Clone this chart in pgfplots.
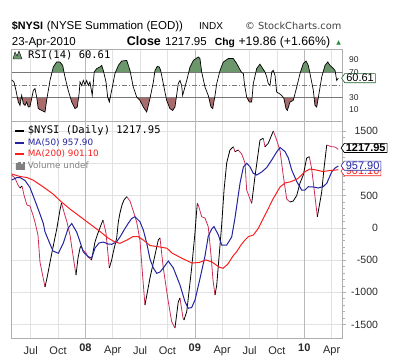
\documentclass[border=0pt]{standalone}
\usepackage{pgfplots}
\pgfplotsset{compat=1.18}
\usepackage{pgfplotstable}
\usetikzlibrary{shapes.symbols}
\usepackage{fontspec}
\setmainfont{Liberation Sans}
\newfontfamily\mono{DejaVu Sans Mono}
\newfontfamily\dejavu{DejaVu Sans}
\definecolor{nysidn}{RGB}{205,45,85}
\definecolor{ma50}{RGB}{35,35,160}
\definecolor{ma200}{RGB}{250,30,30}
\definecolor{rsigreen}{RGB}{108,150,108}
\definecolor{rsired}{RGB}{168,108,108}
\definecolor{gridl}{RGB}{226,226,226}
\definecolor{gridy}{RGB}{185,185,185}
\definecolor{framec}{RGB}{175,175,175}
\definecolor{refl}{RGB}{120,120,120}
\definecolor{upgreen}{RGB}{40,140,60}
\definecolor{txt}{RGB}{40,40,40}

% $NYSI falling segments (crimson)
\pgfplotstableread{
x y
3.92 820
4.28 773
4.61 665
4.83 618
nan nan
5.05 649
5.27 509
5.59 354
5.92 339
6.25 199
6.47 90
6.80 -112
7.02 -531
7.57 -919
nan nan
9.38 385
9.65 245
9.98 90
10.31 -112
10.75 -531
10.97 -733
nan nan
11.52 -283
11.73 -345
12.06 -391
12.28 -453
12.67 -500
nan nan
13.93 121
14.26 -81
14.62 -624
nan nan
16.53 483
16.89 416
17.25 261
17.62 90
17.98 -189
18.31 -811
18.53 -1199
nan nan
20.18 -158
20.54 -624
21.09 -1148
21.46 -1458
21.82 -1556
nan nan
22.37 -1090
22.70 -1401
22.81 -1432
nan nan
24.27 380
24.38 354
24.75 172
25.11 152
25.47 17
25.77 -422
25.99 -811
26.21 -1044
nan nan
28.22 1259
28.40 1182
nan nan
28.76 1208
29.14 1146
29.50 1006
29.68 587
30.23 380
nan nan
31.50 1390
31.69 1259
nan nan
32.60 1503
32.97 1364
33.34 1197
33.70 804
34.07 447
34.43 401
nan nan
36.55 1104
36.81 913
37.17 486
37.43 172
nan nan
38.46 1286
39.00 1259
39.37 1255
39.73 1218
}\nysidown

% $NYSI rising segments (black)
\pgfplotstableread{
x y
4.83 618
5.05 649
nan nan
7.57 -919
7.79 -780
8.34 -376
8.88 -3
9.21 276
9.38 385
nan nan
10.97 -733
11.19 -469
11.41 -314
11.52 -283
nan nan
12.67 -500
13.05 -221
13.38 -81
13.71 43
13.93 121
nan nan
14.62 -624
14.88 -500
15.06 -376
15.43 -158
15.61 90
15.79 230
16.01 354
16.23 432
16.53 483
nan nan
18.53 -1199
19.08 -780
19.63 -422
19.99 -189
20.18 -158
nan nan
21.82 -1556
22.18 -1152
22.37 -1090
nan nan
22.81 -1432
23.11 -1303
23.65 -624
24.02 -65
24.16 199
24.27 380
nan nan
26.21 -1044
26.40 -888
26.76 -267
26.94 43
27.20 587
27.49 1006
27.85 1208
28.22 1259
nan nan
28.40 1182
28.76 1208
nan nan
30.23 380
30.59 794
31.14 1364
31.50 1390
nan nan
31.69 1259
32.05 1312
32.60 1503
nan nan
34.43 401
34.79 416
35.17 502
35.53 696
35.89 820
36.26 1084
36.55 1104
nan nan
37.43 172
37.91 556
38.16 924
38.46 1286
}\nysiup

% MA(50)
\pgfplotstableread{
x y
3.92 742
4.46 778
4.83 781
5.38 735
5.92 626
6.47 424
7.02 214
7.38 70
7.57 -61
8.12 -252
8.45 -360
9.03 -396
9.57 -241
10.12 -3
10.50 67
11.04 -65
11.41 -216
11.77 -376
12.32 -449
12.69 -469
13.05 -314
13.49 -236
13.96 -221
14.51 -252
14.88 -256
15.43 -216
15.79 -143
16.34 -11
16.70 70
17.07 144
17.44 172
17.98 95
18.35 -34
18.72 -236
19.08 -485
19.45 -624
19.82 -707
20.18 -686
20.54 -624
21.09 -516
21.64 -624
22.37 -888
22.92 -1148
23.28 -1250
23.65 -1238
24.02 -1121
24.56 -790
25.11 -440
25.47 -130
25.85 -19
26.10 20
26.58 -112
26.94 -267
27.49 -267
28.04 -143
28.40 152
28.95 691
29.32 944
29.68 1002
30.04 949
30.41 846
30.78 820
31.33 867
31.88 936
32.43 1053
32.97 1177
33.34 1247
33.88 1185
34.25 1084
34.62 898
35.17 719
35.71 587
36.07 587
36.44 638
36.99 634
37.53 618
38.08 641
38.46 691
39.00 867
39.37 929
39.73 958
}\maA

% MA(200)
\pgfplotstableread{
x y
3.92 836
4.83 797
5.59 781
6.25 742
7.35 638
8.45 525
9.32 408
10.31 292
11.41 175
12.50 59
13.60 -57
14.48 -158
15.24 -221
15.79 -241
16.56 -189
17.22 -135
17.77 -135
18.42 -197
19.08 -275
20.18 -298
20.95 -318
21.49 -391
22.59 -474
23.69 -547
24.46 -539
25.22 -500
25.88 -531
26.65 -609
27.09 -629
27.63 -562
28.18 -438
28.59 -371
29.06 -267
29.50 -189
29.86 -138
30.41 -112
30.96 -8
31.36 106
31.88 250
32.57 447
33.34 634
33.88 696
34.54 716
35.31 766
36.07 871
36.62 913
37.28 898
38.05 874
38.82 890
39.73 901
}\maB

% RSI(14)
\pgfplotstableread{
x y
3.92 58
4.17 54.5
4.39 41
4.64 22.5
4.83 17
5.01 33
5.19 20
5.38 17
5.56 22.5
5.74 14.5
5.92 15
6.11 28
6.29 41
6.47 44
6.66 30.5
6.83 12
7.21 9
7.57 6.5
7.75 25
8.12 57
8.48 78.5
8.85 86.5
9.21 86.5
9.51 81
9.76 62.5
10.12 41
10.50 22.5
10.86 12
11.11 14.5
11.33 38.5
11.41 54.5
11.59 49
11.77 57
11.95 50.5
12.14 57
12.32 49
12.50 54.5
12.75 33
12.97 70.5
13.24 76
13.60 78.5
13.79 81
13.96 73
14.26 54.5
14.44 30.5
14.62 22.5
14.88 41
15.24 68
15.61 81
15.98 88
16.53 89
16.89 73
17.25 46.5
17.62 30.5
17.98 25
18.35 14.5
18.72 6.5
19.08 28
19.45 54.5
19.63 73
19.88 79.5
20.10 78.5
20.25 73
20.54 52
20.91 25
21.27 12
21.57 9
21.82 14.5
22.00 33
22.18 52
22.37 57
22.55 49
22.66 33
22.81 41
23.11 57
23.47 78.5
23.83 89
24.38 94.5
24.56 92
24.75 70.5
25.11 46.5
25.47 33
25.77 14.5
25.96 12
26.21 33
26.40 52
26.76 73
27.12 86.5
27.67 92
28.22 92
28.59 84
28.88 76
29.14 69.5
29.32 68
29.43 52
29.68 30.5
29.97 22.5
30.23 22.5
30.41 52
30.78 76
31.14 83
31.44 76
31.69 70.5
31.88 62.5
32.05 52
32.24 49
32.43 70.5
32.60 73
32.79 65
32.97 38.5
33.26 36
33.52 33
33.77 28
33.99 12
34.14 9
34.43 22.5
34.79 25
35.17 46.5
35.53 68
35.89 84
36.19 88
36.44 81
36.70 62.5
36.99 41
37.17 17
37.36 14.5
37.61 36
37.91 62.5
38.27 81
38.57 86.5
38.82 81
39.19 76
39.37 73
39.55 57
39.73 60.61
}\rsi

\tikzset{
  valbox/.style={signal, signal to=west, signal pointer angle=110, fill=white,
    line width=0.6pt, inner xsep=1.5pt, inner ysep=0.6pt, text height=7.5pt, text depth=0.5pt,
    font=\fontsize{11}{11}\selectfont, anchor=west},
}

\begin{document}
\begin{tikzpicture}
\pgfplotsset{
  panel/.style={
    scale only axis, width=331pt,
    xmin=3.92, xmax=40.21,
    axis line style={draw=framec, line width=0.6pt},
    xtick={6,9,15,18,21,27,30,33,39},
    extra x ticks={12,24,36},
    xmajorgrids,
    major grid style={draw=gridl, line width=0.6pt},
    extra x tick style={grid=major, major grid style={draw=gridy, line width=0.6pt}, major tick length=0pt},
    xtick style={draw=none},
    ytick pos=right, yticklabel pos=right,
    tick align=outside,
    ytick style={draw=framec, line width=0.5pt},
    major tick length=3pt, minor tick length=2pt,
    tick label style={text=txt},
  },
}
% ---------------- main panel ----------------
\begin{axis}[panel, name=main, at={(0pt,0pt)}, anchor=south west,
  height=216.6pt, ymin=-1716, ymax=1648,
  unbounded coords=jump,
  xticklabels={Jul,Oct,Apr,Jul,Oct,Apr,Jul,Oct,Apr},
  extra x tick labels={\textbf{08},\textbf{09},\textbf{10}},
  xticklabel style={font=\fontsize{11}{11}\selectfont, yshift=-1.5pt},
  yticklabel style={font=\fontsize{10.5}{10.5}\selectfont, anchor=east, xshift=35.8pt},
  ytick={-1500,-1000,-500,0,500,1000,1500},
  yticklabels={-1500,-1000,-500,0,500,{},1500},
  minor y tick num=4,
  ymajorgrids,
  legend cell align=left,
  legend image code/.code={\draw[#1, line width=2pt] (0pt,0pt) -- (9pt,0pt);},
  legend style={draw=none, fill=none, at={(0,1)}, anchor=north west,
    xshift=2.5pt, yshift=-3.5pt, inner sep=0pt, row sep=0pt, column sep=2pt,
    nodes={inner sep=0.5pt, text height=8pt, text depth=2.5pt,
      font=\dejavu\fontsize{8.8}{9}\selectfont}},
]
\addlegendimage{black}
\addlegendentry{{\mono\fontsize{10.5}{10.5}\selectfont\$NYSI (Daily) 1217.95}}
\addlegendimage{ma50}
\addlegendentry{\textcolor{ma50}{MA(50) 957.90}}
\addlegendimage{ma200}
\addlegendentry{\textcolor{ma200}{MA(200) 901.10}}
\addlegendimage{legend image code/.code={\fill[gray] (0.5pt,-3.5pt) rectangle (2pt,2pt) (3pt,-3.5pt) rectangle (4.5pt,3.5pt) (5.5pt,-3.5pt) rectangle (7pt,1pt) (7.5pt,-3.5pt) rectangle (9pt,3pt);}}
\addlegendentry{\textcolor{gray}{Volume undef}}

\addplot[forget plot, nysidn, line width=0.8pt] table {\nysidown};
\addplot[forget plot, black, line width=0.8pt] table {\nysiup};
\addplot[forget plot, ma50, line width=1pt] table {\maA};
\addplot[forget plot, ma200, line width=1pt] table {\maB};
\coordinate (bA) at (axis cs:40.21,880);
\coordinate (bB) at (axis cs:40.21,965);
\coordinate (bC) at (axis cs:40.21,1240);
\end{axis}
\node[valbox, draw=ma200, text=ma200, xshift=-2pt] at (bA) {901.10};
\node[valbox, draw=ma50, text=ma50, xshift=-2pt] at (bB) {957.90};
\node[valbox, draw=black, text=black, line width=0.7pt, font=\bfseries\fontsize{11}{11}\selectfont, xshift=-2pt] at (bC) {1217.95};

% ---------------- RSI panel ----------------
\begin{axis}[panel, name=rsi, at={(0pt,216.6pt)}, anchor=south west,
  height=72.7pt, ymin=-9, ymax=107.3,
  xticklabels={}, extra x tick labels={},
  ytick={10,30,70,90},
  yticklabels={10,30,70,90},
  yticklabel style={font=\fontsize{8.5}{8.5}\selectfont},
  ytick style={draw=none},
]
\begin{scope}
\clip (axis cs:3.5,70) rectangle (axis cs:40.5,120);
\addplot[fill=rsigreen, draw=none] table {\rsi} \closedcycle;
\end{scope}
\begin{scope}
\clip (axis cs:3.5,-20) rectangle (axis cs:40.5,30);
\addplot[fill=rsired, draw=none] table {\rsi} -- (axis cs:39.73,110) -- (axis cs:3.92,110) -- cycle;
\end{scope}
\addplot[draw=refl, line width=0.6pt] coordinates {(3.92,70) (40.21,70)};
\addplot[draw=refl, line width=0.6pt] coordinates {(3.92,30) (40.21,30)};
\addplot[draw=refl, line width=0.5pt, dash pattern=on 5pt off 2pt on 1pt off 2pt] coordinates {(3.92,50) (40.21,50)};
\addplot[black, line width=0.7pt] table {\rsi};
\coordinate (bR) at (axis cs:40.21,60.61);
\end{axis}
\node[valbox, draw=upgreen!70!black, text=black, xshift=-1.5pt] at (bR) {60.61};
\node[anchor=base west, inner sep=0pt, font=\mono\fontsize{10.5}{10.5}\selectfont] at (16.3pt,279.8pt) {RSI(14) 60.61};
\fill[rsigreen, draw=black, line width=0.4pt] (1.3pt,279.3pt) -- (3.3pt,286.3pt) -- (5.3pt,282.3pt) -- (7.3pt,287.3pt) -- (10.3pt,279.3pt) -- cycle;

% ---------------- header ----------------
\node[anchor=base west, inner sep=0pt, font=\bfseries\fontsize{10.8}{10.8}\selectfont] at (0pt,308.8pt) {\$NYSI};
\node[anchor=base west, inner sep=0pt, font=\fontsize{11.5}{11.5}\selectfont] at (35pt,308.8pt) {(NYSE Summation (EOD))};
\node[anchor=base west, inner sep=0pt, font=\fontsize{10}{10}\selectfont] at (187.3pt,308.8pt) {INDX};
\node[anchor=base west, inner sep=0pt, font=\dejavu\fontsize{9.8}{9.8}\selectfont, text=black!75] at (233.3pt,308.8pt) {© StockCharts.com};
\node[anchor=base west, inner sep=0pt, font=\fontsize{11.5}{11.5}\selectfont] at (0pt,292.6pt) {23-Apr-2010};
\node[anchor=base west, inner sep=0pt, font=\bfseries\fontsize{12.5}{12.5}\selectfont] at (115pt,292.6pt) {Close};
\node[anchor=base west, inner sep=0pt, font=\fontsize{11.5}{11.5}\selectfont] at (153.3pt,292.6pt) {1217.95};
\node[anchor=base west, inner sep=0pt, font=\bfseries\fontsize{10.3}{10.3}\selectfont] at (203pt,292.6pt) {Chg};
\node[anchor=base west, inner sep=0pt, font=\fontsize{12.3}{12.3}\selectfont] at (226.6pt,292.6pt) {+19.86 (+1.66\%)};
\node[anchor=base west, inner sep=0pt, font=\dejavu\fontsize{6}{6}\selectfont, text=upgreen] at (324.5pt,294pt) {▲};
\pgfresetboundingbox
\useasboundingbox (-11.7pt,-24.7pt) rectangle (402.3pt,338.3pt);
\end{tikzpicture}
\end{document}
